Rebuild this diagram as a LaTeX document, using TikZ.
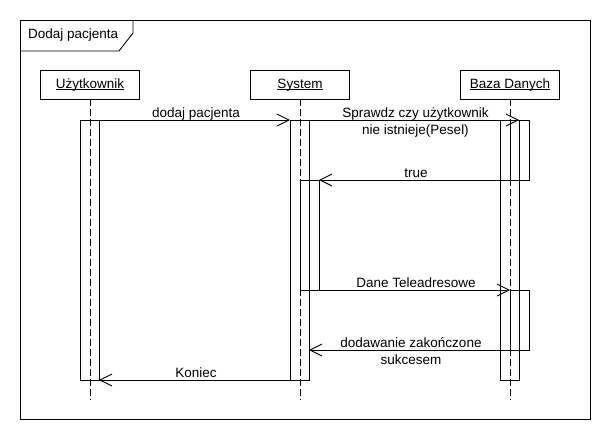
\documentclass[tikz,border=0pt]{standalone}
\usepackage{fontspec}
\setmainfont{Liberation Sans}
\usetikzlibrary{arrows.meta}
\newcommand\lifelinelabel[1]{\underline{\smash{#1}}}
\begin{document}
\begin{tikzpicture}[x=1pt,y=-1pt,
  every node/.style={font=\fontsize{13.5}{16}\selectfont},
  ln/.style={line width=0.9pt},
  part/.style={draw, line width=0.9pt, minimum width=99pt, minimum height=29pt, inner sep=0pt, outer sep=0pt, text height=10pt, text depth=3pt},
  act/.style={draw, line width=0.9pt, minimum width=19pt, inner sep=0pt, outer sep=0pt, anchor=north west},
  life/.style={line width=0.9pt, dash pattern=on 7pt off 3pt},
  msg/.style={line width=0.9pt, -{Straight Barb[length=12pt,width=12pt]}},
  lbl/.style={anchor=base, inner sep=0pt, xshift=1.5pt, yshift=2.5pt},
  lbltwo/.style={anchor=base, inner sep=0pt, xshift=1.5pt, yshift=-14.5pt}
]
\useasboundingbox (0,0) rectangle (610,440);
% frame
\draw[ln] (20,20) rectangle (590,419);
\node[anchor=base west, inner sep=0pt] (title) at (28,38) {Dodaj pacjenta};
\draw[ln] (20,51) -- (119,51) -- (133,33) -- (133,20);
% participants
\node[part] (u) at (90,84.5) {\lifelinelabel{Użytkownik}};
\node[part] (s) at (300,84.5) {\lifelinelabel{System}};
\node[part] (b) at (510,84.5) {\lifelinelabel{Baza Danych}};
\coordinate (end) at (0,400);
\draw[life] (u.south) -- (u.south |- end);
\draw[life] (s.south) -- (s.south |- end);
\draw[life] (b.south) -- (b.south |- end);
% activations
\node[act, minimum height=260pt] (ua) at (80,120) {};
\node[act, minimum height=260pt] (sa) at (290,120) {};
\node[act, minimum height=110pt] (sn) at (300,180) {};
\node[act, minimum height=260pt] (bm) at (500,120) {};
\node[act, minimum height=60pt] (bn1) at (510,120) {};
\node[act, minimum height=60pt] (bn2) at (510,290) {};
% messages
\draw[msg] (ua.north east) -- node[lbl]{dodaj pacjenta} (sa.north west);
\draw[msg] (sa.north east) -- node[lbl]{Sprawdz czy użytkownik} node[lbltwo]{nie istnieje(Pesel)} (bm.north east);
\draw[msg] (bn1.south west) -- node[lbl]{true} (sn.north east);
\draw[msg] (sn.south east) -- node[lbl]{Dane Teleadresowe} (bn2.north west);
\draw[msg] (bn2.south west) -- node[lbl]{dodawanie zakończone} node[lbltwo]{sukcesem} (sa.east |- bn2.south west);
\draw[msg] (sa.south west) -- node[lbl]{Koniec} (ua.south east);
\end{tikzpicture}
\end{document}
